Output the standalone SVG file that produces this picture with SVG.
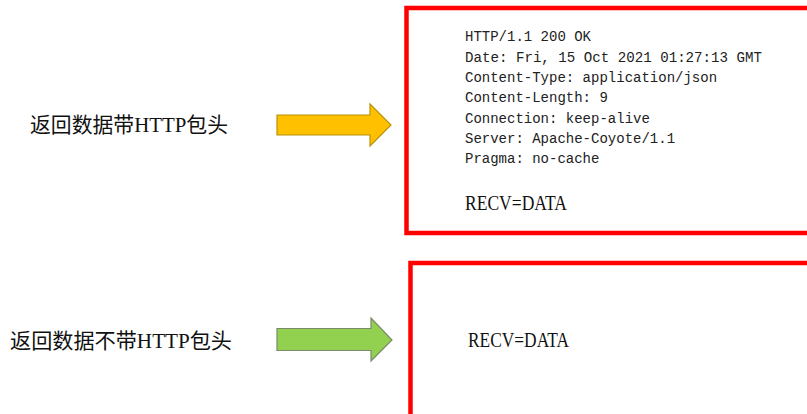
<svg xmlns="http://www.w3.org/2000/svg" width="807" height="414" viewBox="0 0 807 414">
  <style>
    .label { font-family: "Liberation Serif", "Noto Sans CJK SC", serif; font-size: 21px; fill: #111; }
    .mono { font-family: "Liberation Mono", "DejaVu Sans Mono", monospace; font-size: 14px; fill: #222; }
    .recv { font-family: "Liberation Serif", serif; font-size: 20px; fill: #111; }
    .box { fill: #fff; stroke: #ff0000; stroke-width: 4.5; }
    .arrow-y { fill: #ffc000; stroke: #b8920a; stroke-width: 1.2; }
    .arrow-g { fill: #92d050; stroke: #7a8a6a; stroke-width: 1.2; }
  </style>
  <rect width="807" height="414" fill="#fff"/>

  <!-- first case: response with HTTP header -->
  <g id="label-with-header">
    <text class="label" x="30" y="132" textLength="198" lengthAdjust="spacingAndGlyphs">返回数据带HTTP包头</text>
  </g>
  <g id="box-with-header">
    <rect class="box" x="406.5" y="8" width="410" height="225"/>
    <g class="mono">
      <text x="465" y="41">HTTP/1.1 200 OK</text>
      <text x="465" y="61.5" textLength="297" lengthAdjust="spacingAndGlyphs">Date: Fri, 15 Oct 2021 01:27:13 GMT</text>
      <text x="465" y="82">Content-Type: application/json</text>
      <text x="465" y="102">Content-Length: 9</text>
      <text x="465" y="122.5">Connection: keep-alive</text>
      <text x="465" y="143">Server: Apache-Coyote/1.1</text>
      <text x="465" y="163">Pragma: no-cache</text>
    </g>
    <text class="recv" x="465" y="210" textLength="102" lengthAdjust="spacingAndGlyphs">RECV=DATA</text>
  </g>

  <!-- second case: response without HTTP header -->
  <g id="label-without-header">
    <text class="label" x="10" y="348" textLength="222" lengthAdjust="spacingAndGlyphs">返回数据不带HTTP包头</text>
  </g>
  <g id="box-without-header">
    <rect class="box" x="410.5" y="263" width="410" height="170"/>
    <text class="recv" x="468" y="347" textLength="101" lengthAdjust="spacingAndGlyphs">RECV=DATA</text>
  </g>

  <!-- block arrows -->
  <g id="connectors">
    <polygon class="arrow-y" points="277,115 370,115 370,104 391,125 370,146 370,135 277,135"/>
    <polygon class="arrow-g" points="277,328.5 371,328.5 371,318 392,340 371,361 371,350.5 277,350.5"/>
  </g>
</svg>
